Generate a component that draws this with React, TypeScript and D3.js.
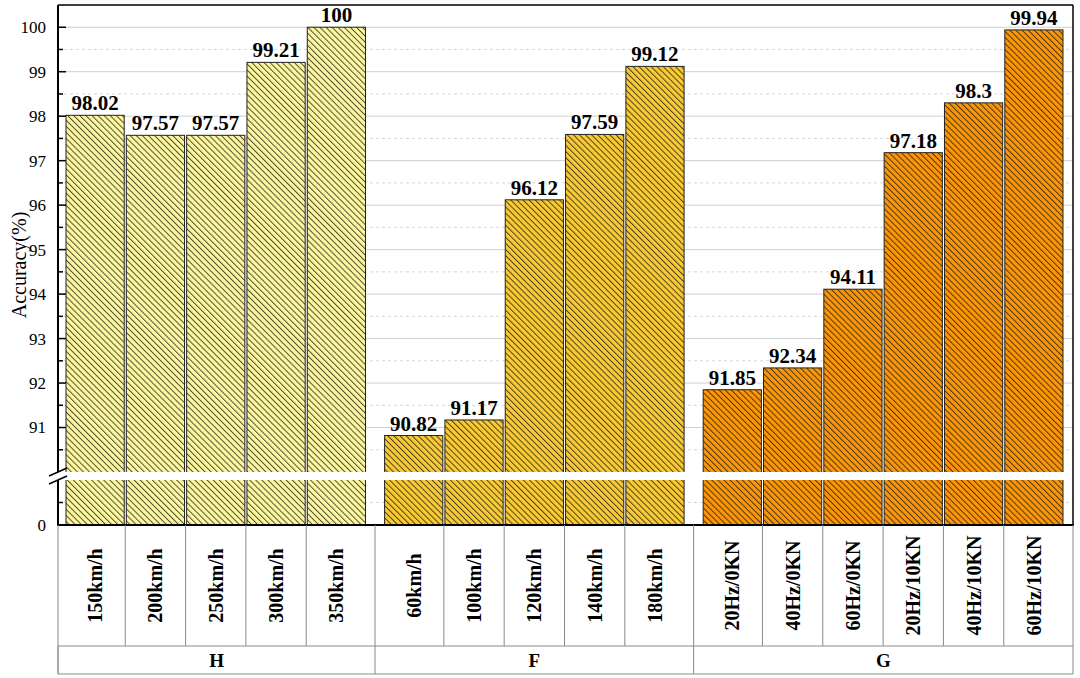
import * as d3 from 'd3'

const groups = ['H', 'F', 'G']
const groupOf = ['H', 'H', 'H', 'H', 'H', 'F', 'F', 'F', 'F', 'F', 'G', 'G', 'G', 'G', 'G', 'G']
const categories = [
  '150km/h', '200km/h', '250km/h', '300km/h', '350km/h',
  '60km/h', '100km/h', '120km/h', '140km/h', '180km/h',
  '20Hz/0KN', '40Hz/0KN', '60Hz/0KN', '20Hz/10KN', '40Hz/10KN', '60Hz/10KN',
]
const accuracy = [
  98.02, 97.57, 97.57, 99.21, 100,
  90.82, 91.17, 96.12, 97.59, 99.12,
  91.85, 92.34, 94.11, 97.18, 98.3, 99.94,
]
const upperTicks = [91, 92, 93, 94, 95, 96, 97, 98, 99, 100]
const upperMinor = [90.5, 91.5, 92.5, 93.5, 94.5, 95.5, 96.5, 97.5, 98.5, 99.5]
const lowerTicks = [0]
const lowerMinor = [0.5]

const GROUP_FILL: Record<string, string> = { H: '#fcf8a2', F: '#f8cb36', G: '#fb960a' }

const W = 1080
const H = 678
const L = 58
const R = 1073
const T = 5
const BREAK_LO = 480
const BREAK_HI = 472
const ZERO = 525
const ROW1 = 646
const ROW2 = 674
const GAP = 17
const FONT = "'Liberation Serif', 'Times New Roman', 'DejaVu Serif', serif"
const txt = { fontFamily: FONT }

export default function App() {
  const yTop = d3.scaleLinear().domain([90, 100.5]).range([BREAK_HI, T])
  const yBot = d3.scaleLinear().domain([0, 1]).range([ZERO, BREAK_LO])
  const xBand = d3.scaleBand<string>().domain(categories).range([0, 963]).paddingInner(0.035)
  const gIndex = (i: number) => groups.indexOf(groupOf[i])
  const barX = (i: number) => L + 8 + (xBand(categories[i]) ?? 0) + gIndex(i) * GAP
  const bw = xBand.bandwidth()
  const yVal = (v: number) => (v >= 90 ? yTop(v) : yBot(v))

  // table cell boundaries sit in the gaps between bars
  const bounds: number[] = [L]
  for (let i = 1; i < categories.length; i++) {
    bounds.push((barX(i - 1) + bw + barX(i)) / 2)
  }
  bounds.push(R)
  const groupBounds = groups.map((g) => {
    const idx = groupOf.map((d, i) => (d === g ? i : -1)).filter((i) => i >= 0)
    return [bounds[idx[0]], bounds[idx[idx.length - 1] + 1]]
  })

  return (
    <div style={{ position: 'fixed', left: 0, top: 0 }}>
      <svg width={W} height={H} style={{ background: '#fff', display: 'block', fontFamily: FONT }}>
        <defs>
          {groups.map((g) => (
            <pattern
              key={g}
              id={`hatch-${g}`}
              patternUnits="userSpaceOnUse"
              width={4.3}
              height={4.3}
              patternTransform="rotate(-45)"
            >
              <rect width={4.3} height={4.3} fill={GROUP_FILL[g]} />
              <line x1={0.5} y1={0} x2={0.5} y2={4.3} stroke="#1e1608" strokeWidth={0.95} strokeOpacity={0.8} />
            </pattern>
          ))}
        </defs>

        {/* grid */}
        {upperTicks.map((t) => (
          <line key={`g${t}`} x1={L} x2={R} y1={yTop(t)} y2={yTop(t)} stroke="#cfcfcf" strokeWidth={1} />
        ))}
        {upperMinor.map((t) => (
          <line key={`m${t}`} x1={L} x2={R} y1={yTop(t)} y2={yTop(t)} stroke="#d6d6d6" strokeWidth={1} strokeDasharray="3,3" />
        ))}
        {lowerMinor.map((t) => (
          <line key={`lm${t}`} x1={L} x2={R} y1={yBot(t)} y2={yBot(t)} stroke="#d6d6d6" strokeWidth={1} strokeDasharray="3,3" />
        ))}

        {/* bars */}
        {accuracy.map((v, i) => (
          <rect
            key={categories[i]}
            x={barX(i)}
            y={yVal(v)}
            width={bw}
            height={ZERO - yVal(v)}
            fill={`url(#hatch-${groupOf[i]})`}
            stroke="#222"
            strokeWidth={1}
          />
        ))}

        {/* axis break band */}
        <rect x={L - 1} y={BREAK_HI} width={R - L} height={BREAK_LO - BREAK_HI} fill="#fff" />

        {/* value labels */}
        {accuracy.map((v, i) => (
          <text
            key={`v${i}`}
            x={barX(i) + bw / 2}
            y={yVal(v) - 5}
            textAnchor="middle"
            fontSize={21}
            fontWeight="bold"
            fill="#000"
            style={txt}
          >
            {v}
          </text>
        ))}

        {/* frame */}
        <line x1={L} x2={R} y1={T} y2={T} stroke="#000" strokeWidth={1.5} />
        <line x1={R} x2={R} y1={T} y2={ZERO} stroke="#000" strokeWidth={1.5} />
        <line x1={L} x2={L} y1={T} y2={BREAK_HI} stroke="#000" strokeWidth={2} />
        <line x1={L} x2={L} y1={BREAK_LO} y2={ZERO} stroke="#000" strokeWidth={2} />
        <line x1={L - 1} x2={R + 1} y1={ZERO} y2={ZERO} stroke="#000" strokeWidth={2} />
        <line x1={L - 9} y1={BREAK_HI + 4} x2={L + 9} y2={BREAK_HI - 4} stroke="#000" strokeWidth={1.5} />
        <line x1={L - 9} y1={BREAK_LO + 4} x2={L + 9} y2={BREAK_LO - 4} stroke="#000" strokeWidth={1.5} />

        {/* ticks */}
        {upperTicks.map((t) => (
          <g key={`t${t}`}>
            <line x1={L} x2={L + 8} y1={yTop(t)} y2={yTop(t)} stroke="#000" strokeWidth={1.5} />
            <text x={L - 12} y={yTop(t)} dy="0.35em" textAnchor="end" fontSize={17} fill="#000" style={txt}>
              {t}
            </text>
          </g>
        ))}
        {upperMinor.map((t) => (
          <line key={`mt${t}`} x1={L} x2={L + 5} y1={yTop(t)} y2={yTop(t)} stroke="#000" strokeWidth={1.5} />
        ))}
        {lowerMinor.map((t) => (
          <line key={`lmt${t}`} x1={L} x2={L + 5} y1={yBot(t)} y2={yBot(t)} stroke="#000" strokeWidth={1.5} />
        ))}
        {lowerTicks.map((t) => (
          <text key={`lt${t}`} x={L - 12} y={yBot(t)} dy="0.35em" textAnchor="end" fontSize={17} fill="#000" style={txt}>
            {t}
          </text>
        ))}

        {/* y title */}
        <text
          transform={`translate(19,${(T + ZERO) / 2}) rotate(-90)`}
          textAnchor="middle"
          dominantBaseline="central"
          fontSize={20}
          fill="#000"
          style={txt}
        >
          Accuracy(%)
        </text>

        {/* category table */}
        <g stroke="#8a8a8a" strokeWidth={1} fill="none">
          {bounds.map((b, i) => (
            <line key={`b${i}`} x1={b} x2={b} y1={ZERO} y2={i === 0 || i === bounds.length - 1 ? ROW2 : ROW1} />
          ))}
          {groupBounds.map((gb, i) => (
            <line key={`gb${i}`} x1={gb[0]} x2={gb[0]} y1={ROW1} y2={ROW2} />
          ))}
          <line x1={L} x2={R} y1={ROW1} y2={ROW1} />
          <line x1={L} x2={R} y1={ROW2} y2={ROW2} />
        </g>
        {categories.map((c, i) => (
          <text
            key={`c${c}`}
            transform={`translate(${barX(i) + bw / 2},${(ZERO + ROW1) / 2}) rotate(-90)`}
            textAnchor="middle"
            dominantBaseline="central"
            fontSize={20}
            fontWeight="bold"
            fill="#000"
            style={txt}
          >
            {c}
          </text>
        ))}
        {groups.map((g, i) => (
          <text
            key={`gl${g}`}
            x={(groupBounds[i][0] + groupBounds[i][1]) / 2}
            y={(ROW1 + ROW2) / 2}
            dy="0.35em"
            textAnchor="middle"
            fontSize={19}
            fontWeight="bold"
            fill="#000"
            style={txt}
          >
            {g}
          </text>
        ))}
      </svg>
    </div>
  )
}
